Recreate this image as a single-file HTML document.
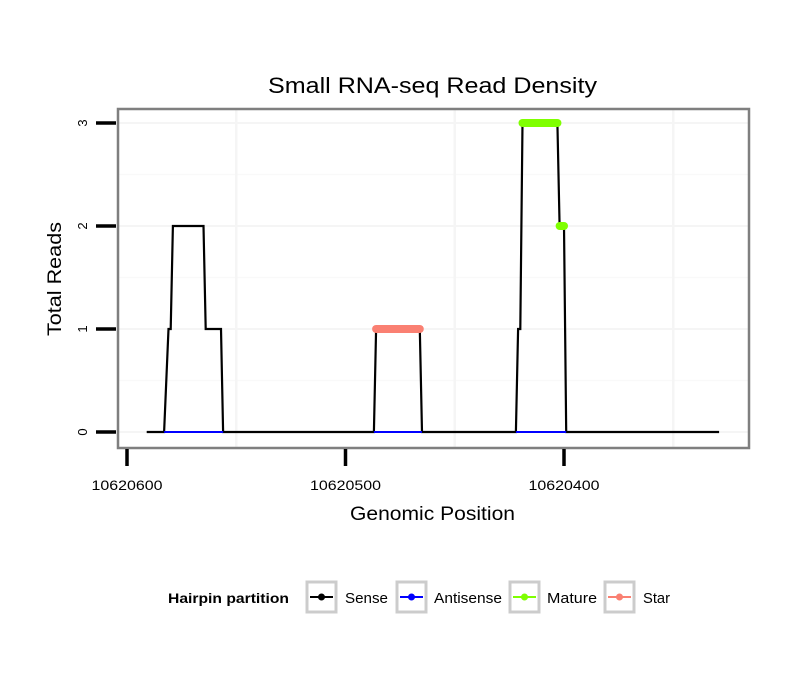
<!DOCTYPE html>
<html><head><meta charset="utf-8"><style>
body{margin:0;background:#fff;}
svg text{font-family:"Liberation Sans",sans-serif;}
</style></head><body>
<svg id="chart" width="810" height="690" xmlns="http://www.w3.org/2000/svg">
<rect width="810" height="690" fill="#fff"/>
<text x="268" y="93" font-size="22" textLength="329" lengthAdjust="spacingAndGlyphs">Small RNA-seq Read Density</text>
<g id="grid"></g>
<g id="marks"></g>
<rect x="118" y="109" width="631" height="339" fill="none" stroke="#7f7f7f" stroke-width="2.5"/>
<g id="axes"></g>
<text x="350" y="520" font-size="19" textLength="165" lengthAdjust="spacingAndGlyphs">Genomic Position</text>
<text transform="translate(61,336) rotate(-90)" font-size="19" textLength="114" lengthAdjust="spacingAndGlyphs">Total Reads</text>
<g>
<text x="168" y="603" font-size="14" font-weight="bold" textLength="121" lengthAdjust="spacingAndGlyphs">Hairpin partition</text>
<g><rect x="307" y="582" width="29" height="30" fill="#fff" stroke="#cccccc" stroke-width="3"/><line x1="310" y1="597" x2="333" y2="597" stroke="#000" stroke-width="2"/><circle cx="321.5" cy="597" r="3.5" fill="#000"/><text x="345" y="603" font-size="15" textLength="43" lengthAdjust="spacingAndGlyphs">Sense</text></g>
<g><rect x="397" y="582" width="29" height="30" fill="#fff" stroke="#cccccc" stroke-width="3"/><line x1="400" y1="597" x2="423" y2="597" stroke="#0000ff" stroke-width="2"/><circle cx="411.5" cy="597" r="3.5" fill="#0000ff"/><text x="434" y="603" font-size="15" textLength="68" lengthAdjust="spacingAndGlyphs">Antisense</text></g>
<g><rect x="510" y="582" width="29" height="30" fill="#fff" stroke="#cccccc" stroke-width="3"/><line x1="513" y1="597" x2="536" y2="597" stroke="#7fff00" stroke-width="2"/><circle cx="524.5" cy="597" r="3.5" fill="#7fff00"/><text x="547" y="603" font-size="15" textLength="50" lengthAdjust="spacingAndGlyphs">Mature</text></g>
<g><rect x="605" y="582" width="29" height="30" fill="#fff" stroke="#cccccc" stroke-width="3"/><line x1="608" y1="597" x2="631" y2="597" stroke="#fa8072" stroke-width="2"/><circle cx="619.5" cy="597" r="3.5" fill="#fa8072"/><text x="643" y="603" font-size="15" textLength="27" lengthAdjust="spacingAndGlyphs">Star</text></g>
</g>
</svg>
<script>
// data
const xTicks = [10620600, 10620500, 10620400];
const yTicks = [0, 1, 2, 3];
const sensePos = [10620591,10620583,10620581,10620580,10620579,10620565,10620564,10620557,10620556,10620487,10620486,10620466,10620465,10620422,10620421,10620420,10620419,10620403,10620402,10620400,10620399,10620329];
const senseVal = [0,0,1,1,2,2,1,1,0,0,1,1,0,0,1,1,3,3,2,2,0,0];
const antisenseRanges = [[10620583,10620556],[10620487,10620465],[10620422,10620399]];
const matureSegments = [[10620419,10620403,3],[10620402,10620400,2]];
const starSegments = [[10620486,10620466,1]];

const NS='http://www.w3.org/2000/svg';
const X = p => 127 + (10620600 - p) * 2.185;
const Y = v => 432 - v * 103;
function mk(tag, attrs, parent){const e=document.createElementNS(NS,tag);for(const k in attrs)e.setAttribute(k,attrs[k]);parent.appendChild(e);return e;}
const grid=document.getElementById('grid'), marks=document.getElementById('marks'), axes=document.getElementById('axes');

// grid
yTicks.forEach(v=>{const l=mk('line',{x1:119,x2:748,y1:Y(v),y2:Y(v),stroke:'#f5f5f5','stroke-width':2},grid);

});
for(let i=0;i<3;i++){const v=i+0.5;const l=mk('line',{x1:119,x2:748,y1:Y(v),y2:Y(v),stroke:'#f9f9f9','stroke-width':1.5},grid);

}
[10620550,10620450,10620350].forEach(p=>{const l=mk('line',{x1:X(p),x2:X(p),y1:110,y2:447,stroke:'#f5f5f5','stroke-width':2.5},grid);

});

// axes
yTicks.forEach(v=>{const t=mk('line',{x1:96,x2:116,y1:Y(v),y2:Y(v),stroke:'#000','stroke-width':3.5},axes);


const tx=mk('text',{transform:`translate(87,${Y(v)}) rotate(-90)`,'font-size':13,'text-anchor':'middle'},axes);tx.textContent=v;

});
xTicks.forEach(p=>{const t=mk('line',{x1:X(p),x2:X(p),y1:449,y2:466,stroke:'#000','stroke-width':3.5},axes);


const tx=mk('text',{x:X(p)-35.5,y:490,'font-size':14,textLength:71,lengthAdjust:'spacingAndGlyphs'},axes);tx.textContent=p;

});

// sense
const d=sensePos.map((p,i)=>(i?'L':'M')+X(p).toFixed(1)+' '+Y(senseVal[i])).join(' ');
const sp=mk('path',{d:d,fill:'none',stroke:'#000','stroke-width':2.2,'stroke-linejoin':'miter'},marks);


// antisense
antisenseRanges.forEach(r=>{const l=mk('line',{x1:X(r[0]),x2:X(r[1]),y1:Y(0),y2:Y(0),stroke:'#0000ff','stroke-width':2},marks);

});
// mature & star
matureSegments.forEach(s=>{const l=mk('line',{x1:X(s[0]),x2:X(s[1]),y1:Y(s[2]),y2:Y(s[2]),stroke:'#7fff00','stroke-width':8,'stroke-linecap':'round'},marks);

});
starSegments.forEach(s=>{const l=mk('line',{x1:X(s[0]),x2:X(s[1]),y1:Y(s[2]),y2:Y(s[2]),stroke:'#fa8072','stroke-width':8,'stroke-linecap':'round'},marks);

});
</script>
</body></html>
